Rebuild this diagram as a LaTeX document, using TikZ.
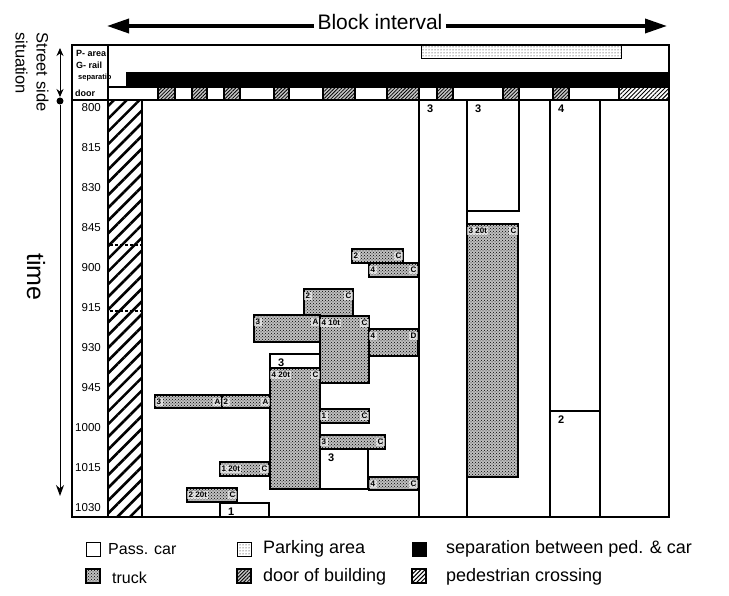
\documentclass[tikz,border=0pt]{standalone}
\usepackage{fontspec}
\setmainfont{Liberation Sans}
\usetikzlibrary{positioning,patterns,patterns.meta,arrows.meta}

% truck box: name, x0, y0, x1, y1, left text, right text
\newcommand{\truckbox}[7]{%
  \draw[truck] (#2,#3) rectangle (#4,#5);
  \node[boxlab, anchor=west] (#1l) at (#2,#3+7) {#6};
  \node[boxlab, anchor=east] (#1r) at (#4,#3+7) {#7};
}
% passenger car box: name, x0, y0, x1, y1, text
\newcommand{\carbox}[6]{%
  \draw[pcar] (#2,#3) rectangle (#4,#5);
  \node[carlab, anchor=west] (#1) at (#2+8,#3+9) {#6};
}

\begin{document}
\begin{tikzpicture}[x=1pt, y=-1pt,
      frame/.style={line width=1.4pt},
      truck/.style={draw, line width=1.3pt, preaction={fill=gray!50}, pattern=crosshatch dots},
      pcar/.style={draw, line width=1.2pt, fill=white},
      park/.style={draw, line width=1pt, preaction={fill=white}, pattern=dots},
      doorpat/.style={draw, line width=1.2pt, preaction={fill=gray!45},
                      pattern={Lines[angle=45,distance=2.5pt,line width=0.8pt]}},
      pedpat/.style={draw, line width=1.2pt, preaction={fill=white},
                     pattern={Lines[angle=45,distance=9pt,line width=2.6pt]}},
      pedsmall/.style={draw, line width=1.2pt, preaction={fill=white},
                       pattern={Lines[angle=45,distance=3pt,line width=1pt]}},
      boxlab/.style={inner sep=1.5pt, font=\fontsize{8}{8}\selectfont\bfseries,
                     fill=white, fill opacity=0.6, text opacity=1},
      carlab/.style={inner sep=0pt, font=\fontsize{11}{11}\selectfont\bfseries},
      collab/.style={anchor=west, inner sep=0pt, font=\fontsize{9}{9}\selectfont\bfseries},
      tlabel/.style={anchor=east, inner sep=0pt, font=\fontsize{11.5}{11.5}\selectfont},
      bigarr/.style={line width=3.5pt, -{Triangle[length=22pt,width=14pt]}},
      lgsq/.style={draw, line width=1pt, minimum size=14pt, inner sep=0pt},
      lgtxt/.style={anchor=west, inner sep=0pt, font=\fontsize{18}{18}\selectfont}]
    \useasboundingbox (0,0) rectangle (729,596);

    % block interval arrow
    \node[font=\fontsize{21}{21}\selectfont] (blk) at (380,22) {Block interval};
    \coordinate (blkL) at (107,26);
    \coordinate (blkR) at (667,26);
    \draw[bigarr] (blkL -| blk.west) -- (blkL);
    \draw[bigarr] (blkR -| blk.east) -- (blkR);

    % street side and time axis
    \node[rotate=-90, align=left, font=\fontsize{16.5}{21}\selectfont] (street) at (32,72)
      {Street side\\situation};
    \coordinate (sTop) at (60,48);
    \coordinate (sBot) at (60,97);
    \draw[{Stealth[length=8pt,width=7pt]}-{Stealth[length=8pt,width=7pt]}, line width=1pt]
      (sTop) -- (sBot);
    \node[circle, fill, inner sep=0pt, minimum size=7pt] (tdot) at (60,101) {};
    \coordinate (tend) at (60,496);
    \draw[-{Stealth[length=11pt,width=8pt]}, line width=1pt] (tdot) -- (tend);
    \node[rotate=-90, font=\fontsize{25}{25}\selectfont] (timelab) at (36,277) {time};

    % street side rows
    \node[collab] (lpa) at (76,53) {P- area};
    \node[collab] (lgr) at (76,65) {G- rail};
    \node[collab, font=\fontsize{7.5}{7.5}\selectfont\bfseries] (lsep) at (78,78) {separatio};
    \node[collab] (ldoor) at (75,93) {door};
    \draw[park] (421,46) rectangle (621,59);
    \fill (126,72) rectangle (669,87);
    \draw[line width=1.5pt, fill=white] (108,87) rectangle (669,100);
    \foreach \a/\b in {158/175,192/207,224/240,274/289,323/355,387/419,437/453,503/519,553/569}
      \draw[doorpat] (\a,87) rectangle (\b,100);
    \draw[pedsmall] (619,87) rectangle (669,100);

    % pedestrian crossing
    \draw[pedpat] (108,100) rectangle (142,517);
    \draw[densely dashed, line width=1.2pt] (110,245) -- (141,245);
    \draw[densely dashed, line width=1.2pt] (110,311) -- (141,311);

    % time scale
    \foreach \t [count=\i from 0] in {800,815,830,845,900,915,930,945,1000,1015,1030}
      \node[tlabel] (t\t) at (101,108+40*\i) {\t};

    % passenger cars
    \carbox{c1}{419}{100}{467}{517}{3}
    \carbox{c2}{467}{100}{519}{211}{3}
    \carbox{c3}{550}{100}{600}{411}{4}
    \carbox{c4}{550}{411}{600}{517}{2}
    \carbox{c5}{270}{354}{320}{368}{3}
    \carbox{c6}{320}{449}{368}{489}{3}
    \carbox{c7}{220}{503}{269}{517}{1}

    % trucks
    \truckbox{k1}{352}{249}{403}{263}{2}{C}
    \truckbox{k2}{369}{263}{418}{277}{4}{C}
    \truckbox{k3}{304}{289}{353}{316}{2}{C}
    \truckbox{k4}{254}{315}{320}{342}{3}{A}
    \truckbox{k5}{320}{316}{369}{383}{4 10t}{C}
    \truckbox{k6}{369}{329}{418}{356}{4}{D}
    \truckbox{k7}{270}{368}{320}{489}{4 20t}{C}
    \truckbox{k8}{155}{395}{222}{408}{3}{A}
    \truckbox{k9}{222}{395}{270}{408}{2}{A}
    \truckbox{k10}{320}{409}{369}{423}{1}{C}
    \truckbox{k11}{320}{435}{385}{449}{3}{C}
    \truckbox{k12}{369}{477}{418}{490}{4}{C}
    \truckbox{k13}{220}{462}{269}{476}{1 20t}{C}
    \truckbox{k14}{187}{488}{237}{502}{2 20t}{C}
    \truckbox{k15}{467}{224}{518}{477}{3 20t}{C}

    % frame
    \draw[frame] (72,45) rectangle (669,517);
    \draw[frame] (108,45) -- (108,517);
    \draw[frame] (72,100) -- (669,100);

    % legend
    \node[lgsq, fill=white] (lgcar) at (93,549) {};
    \node[lgtxt, font=\fontsize{16}{16}\selectfont] (lgcartx) at (108,549) {Pass. car};
    \node[lgsq, park] (lgpark) at (244,549) {};
    \node[lgtxt] (lgparktx) at (263,549) {Parking area};
    \node[lgsq, fill=black] (lgsep) at (419,549) {};
    \node[lgtxt] (lgseptx) at (446,549) {separation between ped. \& car};
    \node[lgsq, truck] (lgtruck) at (93,576) {};
    \node[lgtxt, font=\fontsize{16}{16}\selectfont] (lgtrucktx) at (112,578) {truck};
    \node[lgsq, doorpat] (lgdoor) at (244,576) {};
    \node[lgtxt] (lgdoortx) at (263,577) {door of building};
    \node[lgsq, pedsmall] (lgped) at (419,576) {};
    \node[lgtxt] (lgpedtx) at (446,577) {pedestrian crossing};
  \end{tikzpicture}
\end{document}
